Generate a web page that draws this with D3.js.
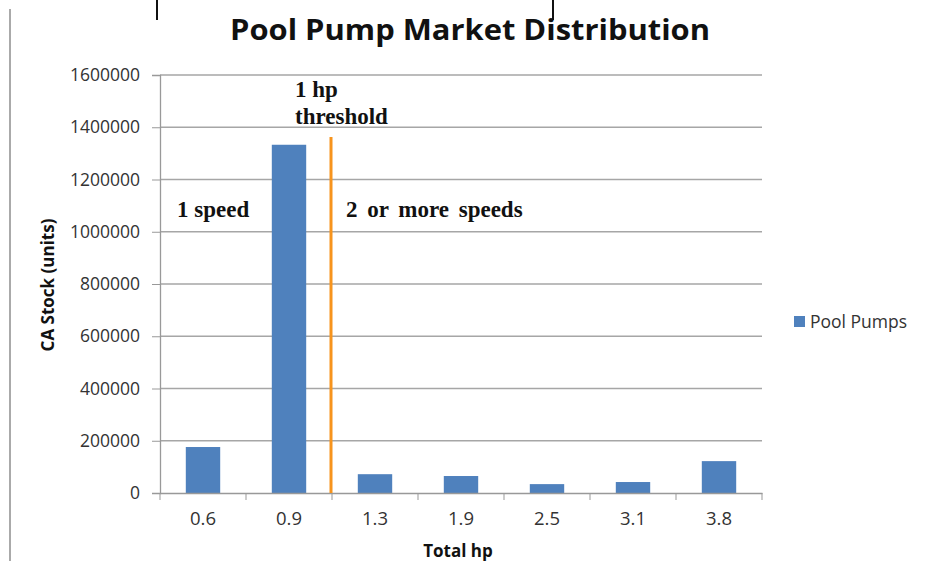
<!DOCTYPE html>
<html>
<head>
<meta charset="utf-8">
<script src="https://cdn.jsdelivr.net/npm/d3@7"></script>
<style>
  body { margin: 0; background: #fff; }
  text { font-family: "Open Sans", "Liberation Sans", sans-serif; }
  .serif { font-family: "Liberation Serif", "DejaVu Serif", serif; font-weight: bold; }
</style>
</head>
<body>
<svg width="925" height="561"></svg>
<script>
// data
const categories = ["0.6", "0.9", "1.3", "1.9", "2.5", "3.1", "3.8"];
const poolPumps = [176000, 1333000, 72000, 65000, 34000, 42000, 122000];
const yTicks = [0, 200000, 400000, 600000, 800000, 1000000, 1200000, 1400000, 1600000];

const svg = d3.select("svg");
const plotLeft = 160, plotRight = 762, plotTop = 75, plotBottom = 493;

const x = d3.scaleBand().domain(categories).range([plotLeft, plotRight]).paddingInner(0.6).paddingOuter(0.3);
const y = d3.scaleLinear().domain([0, 1600000]).range([plotBottom, plotTop]);

// page artefacts (scan edges)
svg.append("line").attr("x1", 10).attr("x2", 10).attr("y1", 9).attr("y2", 561)
  .attr("stroke", "#aaa").attr("stroke-width", 2);
svg.append("line").attr("x1", 157).attr("x2", 157).attr("y1", 0).attr("y2", 20)
  .attr("stroke", "#111").attr("stroke-width", 2);
svg.append("line").attr("x1", 553).attr("x2", 553).attr("y1", 0).attr("y2", 20)
  .attr("stroke", "#111").attr("stroke-width", 2);

// gridlines
svg.append("g").selectAll("line").data(yTicks.slice(1)).enter().append("line")
  .attr("x1", plotLeft).attr("x2", plotRight)
  .attr("y1", d => y(d)).attr("y2", d => y(d))
  .attr("stroke", "#a6a6a6").attr("stroke-width", 1.3);

// y axis
const yAxis = svg.append("g").attr("transform", `translate(${plotLeft},0)`)
  .call(d3.axisLeft(y).tickValues(yTicks).tickSize(8).tickPadding(12).tickFormat(d3.format("d")));
yAxis.select(".domain").attr("stroke", "#999").attr("stroke-width", 1.3);
yAxis.selectAll(".tick line").attr("stroke", "#999");
yAxis.selectAll("text").attr("fill", "#333").style("font-size", "17.5px");

// bars
svg.append("g").selectAll("rect").data(poolPumps).enter().append("rect")
  .attr("x", (d, i) => x(categories[i]))
  .attr("width", x.bandwidth())
  .attr("y", d => y(d))
  .attr("height", d => plotBottom - y(d))
  .attr("fill", "#4f81bd");

// x axis
const slot = (plotRight - plotLeft) / categories.length;
const xAxis = svg.append("g").attr("transform", `translate(0,${plotBottom})`)
  .call(d3.axisBottom(x).tickSize(0).tickPadding(19));
xAxis.select(".domain").attr("stroke", "#999").attr("stroke-width", 1.3);
xAxis.selectAll("text").attr("fill", "#333").style("font-size", "18.5px");
xAxis.selectAll(".sep").data(d3.range(categories.length + 1)).enter().append("line")
  .attr("x1", i => plotLeft + i * slot)
  .attr("x2", i => plotLeft + i * slot)
  .attr("y1", 0).attr("y2", 7).attr("stroke", "#999");

// 1 hp threshold line between 0.9 and 1.3
const thrX = plotLeft + 2 * slot - 1;
svg.append("line").attr("x1", thrX).attr("x2", thrX)
  .attr("y1", 137).attr("y2", plotBottom)
  .attr("stroke", "#f7941d").attr("stroke-width", 3);

// annotations
const note = (tx, ty, s) => svg.append("text").attr("class", "serif")
  .attr("x", tx).attr("y", ty).style("font-size", "23px").attr("fill", "#111").text(s);
note(295, 97, "1 hp");
note(295, 124, "threshold");
note(177, 217, "1 speed");
note(346, 217, "2 or more speeds").style("word-spacing", "4px");

// title
svg.append("text").attr("x", 470).attr("y", 40).attr("text-anchor", "middle")
  .style("font-size", "29px").style("font-weight", "bold").attr("fill", "#111")
  .attr("textLength", 480).attr("lengthAdjust", "spacingAndGlyphs")
  .text("Pool Pump Market Distribution");

// axis titles
svg.append("text").attr("transform", "translate(54,285) rotate(-90)").attr("text-anchor", "middle")
  .style("font-size", "17px").style("font-weight", "bold").attr("fill", "#111")
  .text("CA Stock (units)");
svg.append("text").attr("x", 458).attr("y", 557).attr("text-anchor", "middle")
  .style("font-size", "17px").style("font-weight", "bold").attr("fill", "#111")
  .text("Total hp");

// legend
svg.append("rect").attr("x", 794).attr("y", 316).attr("width", 11).attr("height", 11).attr("fill", "#4f81bd");
svg.append("text").attr("x", 810).attr("y", 328).style("font-size", "17.5px").attr("fill", "#333").text("Pool Pumps");
</script>
</body>
</html>
